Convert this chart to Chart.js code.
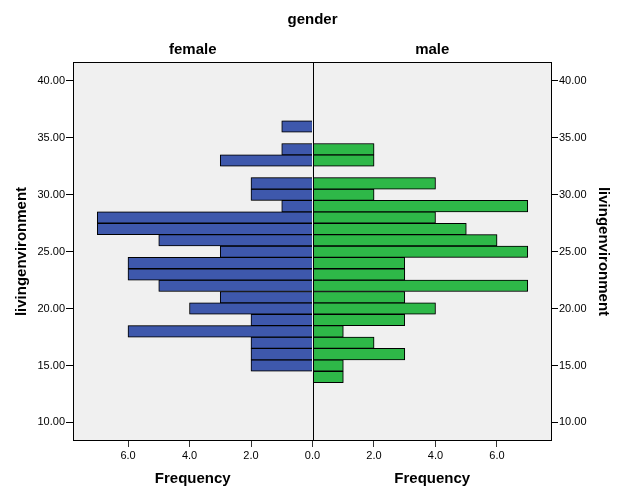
<!DOCTYPE html>
<html>
<head>
<meta charset="utf-8">
<script src="https://cdn.jsdelivr.net/npm/chart.js@4.4.1/dist/chart.umd.min.js"></script>
<style>
  body { margin: 0; background: #fff; }
  canvas { display: block; }
</style>
</head>
<body>
<canvas id="pyramid" width="626" height="501"></canvas>
<script>
// livingenvironment bins (value of each bar) and frequency per gender
var bins   = [14, 15, 16, 17, 18, 19, 20, 21, 22, 23, 24, 25, 26, 27, 28, 29, 30, 31, 32, 33, 34, 35, 36];
var female = [ 0,  2,  2,  2,  6,  2,  4,  3,  5,  6,  6,  3,  5,  7,  7,  1,  2,  2,  0,  3,  1,  0,  1];
var male   = [ 1,  1,  3,  2,  1,  3,  4,  3,  7,  3,  3,  7,  6,  5,  4,  7,  2,  4,  0,  2,  2,  0,  0];
var yTicks = [10, 15, 20, 25, 30, 35, 40];
var xTicks = [-6, -4, -2, 0, 2, 4, 6];

var BLUE = '#3E58AC', GREEN = '#2EB848';
var FONT = 'Liberation Sans, Arial, sans-serif';

Chart.defaults.font.family = FONT;
Chart.defaults.color = '#000';

// female bars go to the left (negative), male to the right
function points(arr, sign) {
    var out = [];
    for (var i = 0; i < bins.length; i++) {
        if (arr[i] > 0) out.push({ x: sign * arr[i], y: bins[i] });
    }
    return out;
}

function fixTicks(list) {
    return function (axis) {
        axis.ticks = list.map(function (v) { return { value: v }; });
    };
}

var frame = {
    id: 'frame',
    beforeDraw: function (chart) {
        var c = chart.ctx, a = chart.chartArea;
        c.save();
        c.fillStyle = '#fff';
        c.fillRect(0, 0, chart.width, chart.height);
        c.fillStyle = '#F0F0F0';
        c.fillRect(a.left, a.top, a.right - a.left, a.bottom - a.top);
        c.restore();
    },
    beforeDatasetsDraw: function (chart) {
        var c = chart.ctx;
        c.save();
        c.shadowColor = 'rgba(0,0,0,0.35)';
        c.shadowBlur = 2;
        c.shadowOffsetX = 0.5;
        c.shadowOffsetY = 0;
    },
    afterDatasetsDraw: function (chart) {
        var c = chart.ctx, a = chart.chartArea;
        c.restore();
        c.save();
        c.strokeStyle = '#000';
        c.lineWidth = 1;
        var x0 = Math.round(chart.scales.x.getPixelForValue(0)) + 0.5;
        c.beginPath();
        c.moveTo(x0, a.top);
        c.lineTo(x0, a.bottom);
        c.stroke();
        c.strokeRect(Math.round(a.left) + 0.5, Math.round(a.top) + 0.5,
            Math.round(a.right - a.left) - 1, Math.round(a.bottom - a.top) - 1);
        c.restore();
    },
    afterDraw: function (chart) {
        var c = chart.ctx, a = chart.chartArea, xs = chart.scales.x;
        var x0 = xs.getPixelForValue(0);
        var leftMid = (a.left + x0) / 2, rightMid = (x0 + a.right) / 2;
        var yMid = (a.top + a.bottom) / 2;
        c.save();
        c.fillStyle = '#000';
        c.font = 'bold 15px ' + FONT;
        c.textAlign = 'center';
        c.textBaseline = 'middle';
        c.fillText('gender', x0, 20);
        c.fillText('female', leftMid, 50);
        c.fillText('male', rightMid, 50);
        c.fillText('Frequency', leftMid, 479);
        c.fillText('Frequency', rightMid, 479);

        c.save();
        c.translate(22, yMid);
        c.rotate(-Math.PI / 2);
        c.fillText('livingenvironment', 0, 0);
        c.restore();

        c.save();
        c.translate(603, yMid);
        c.rotate(Math.PI / 2);
        c.fillText('livingenvironment', 0, 0);
        c.restore();
        c.restore();
    }
};

var ctx = document.getElementById('pyramid').getContext('2d');
var pyramid = new Chart(ctx, {
    type: 'bar',
    data: {
        datasets: [{
            label: 'female',
            data: points(female, -1),
            backgroundColor: BLUE,
            borderColor: '#000',
            borderWidth: 1
        }, {
            label: 'male',
            data: points(male, 1),
            backgroundColor: GREEN,
            borderColor: '#000',
            borderWidth: 1
        }]
    },
    options: {
        indexAxis: 'y',
        responsive: false,
        animation: false,
        layout: { padding: { top: 62, left: 0, right: 0, bottom: 0 } },
        datasets: {
            bar: { barPercentage: 1, categoryPercentage: 1, grouped: false }
        },
        plugins: {
            legend: { display: false },
            tooltip: { enabled: false }
        },
        scales: {
            x: {
                type: 'linear',
                min: -7.79,
                max: 7.79,
                offset: false,
                afterBuildTicks: fixTicks(xTicks),
                afterFit: function (s) { s.height = 60; },
                border: { display: false },
                grid: { offset: false, drawOnChartArea: false, drawTicks: true, tickLength: 6, tickColor: '#333' },
                ticks: {
                    font: { size: 11 },
                    padding: 2,
                    callback: function (v) { return Math.abs(v).toFixed(1); }
                }
            },
            y: {
                type: 'linear',
                position: 'left',
                min: 8.37,
                max: 41.66,
                offset: false,
                afterBuildTicks: fixTicks(yTicks),
                afterFit: function (s) { s.width = 73; },
                border: { display: false },
                grid: { offset: false, drawOnChartArea: false, drawTicks: true, tickLength: 7, tickColor: '#000' },
                ticks: {
                    font: { size: 11 },
                    padding: 1,
                    callback: function (v) { return v.toFixed(2); }
                }
            },
            y2: {
                type: 'linear',
                position: 'right',
                min: 8.37,
                max: 41.66,
                offset: false,
                afterBuildTicks: fixTicks(yTicks),
                afterFit: function (s) { s.width = 74; },
                border: { display: false },
                grid: { offset: false, drawOnChartArea: false, drawTicks: true, tickLength: 6, tickColor: '#000' },
                ticks: {
                    font: { size: 11 },
                    padding: 1,
                    callback: function (v) { return v.toFixed(2); }
                }
            }
        }
    },
    plugins: [frame]
});
</script>
</body>
</html>
